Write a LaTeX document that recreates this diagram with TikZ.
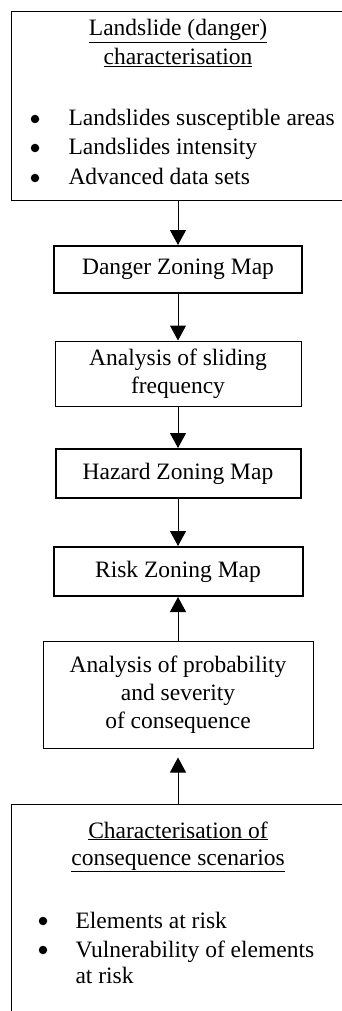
\documentclass[tikz,border=0pt]{standalone}
\usepackage{fontspec}
\setmainfont{Liberation Serif}
\usetikzlibrary{arrows.meta}
\tikzset{
  box/.style={draw, line width=1pt, align=center, inner sep=0pt, font=\fontsize{23.5}{28}\selectfont},
  mapbox/.style={box, line width=2pt},
  label text/.style={inner sep=0pt, font=\fontsize{23.5}{28}\selectfont},
  bulletmark/.style={circle, fill, inner sep=0pt, minimum size=8.5pt}
}

\begin{document}
\begin{tikzpicture}[x=1pt, y=-1pt, ->, >={Triangle[width=16pt,length=15pt]}, line width=1pt]
\useasboundingbox (0,0) rectangle (341,1011);

% landslide characterisation (runs past the right edge)
\node[box, anchor=north west, minimum width=345pt, minimum height=189pt] (dangerchar) at (11,11) {};
\node[label text, anchor=base] (dctitle1) at (178,36) {\underline{Landslide (danger)}};
\node[label text, anchor=base] (dctitle2) at (178,65) {\underline{characterisation}};
\foreach \y/\t [count=\i] in {126/Landslides susceptible areas, 155/Landslides intensity, 185/Advanced data sets} {
  \node[bulletmark] (dcbullet\i) at (35,\y-7) {};
  \node[label text, anchor=base west] (dcitem\i) at (68,\y) {\t};
}

% zoning maps and analyses
\node[mapbox, minimum width=248pt, minimum height=47pt] (dangermap) at (178,269.5) {Danger Zoning Map};
\node[box, minimum width=246pt, minimum height=65pt] (sliding) at (178,373.5) {Analysis of sliding\\frequency};
\node[mapbox, minimum width=245pt, minimum height=49pt] (hazardmap) at (178,473.5) {Hazard Zoning Map};
\node[mapbox, minimum width=249pt, minimum height=49pt] (riskmap) at (178,571.5) {Risk Zoning Map};
\node[box, minimum width=270pt, minimum height=107pt] (probability) at (178,694.5) {Analysis of probability\\and severity\\of consequence};

% consequence scenarios (runs past the right and bottom edges)
\node[box, anchor=north west, minimum width=345pt, minimum height=220pt] (consequence) at (10.5,804) {};
\node[label text, anchor=base] (cstitle1) at (178,838) {\underline{Characterisation of}};
\node[label text, anchor=base] (cstitle2) at (178,865) {\underline{consequence scenarios}};
\node[bulletmark] (csbullet1) at (43,921) {};
\node[bulletmark] (csbullet2) at (43,950) {};
\node[label text, anchor=base west] (csitem1) at (75,928) {Elements at risk};
\node[label text, anchor=base west] (csitem2) at (75,957) {Vulnerability of elements};
\node[label text, anchor=base west] (csitem3) at (75,983) {at risk};

\path (dangermap.north |- dangerchar.south) edge (dangermap.north)
      (dangermap.south) edge (sliding.north)
      (sliding.south) edge (hazardmap.north)
      (hazardmap.south) edge (riskmap.north)
      (probability.north) edge (riskmap.south)
      (probability.south |- consequence.north) edge [shorten >=9pt] (probability.south);

\end{tikzpicture}
\end{document}
